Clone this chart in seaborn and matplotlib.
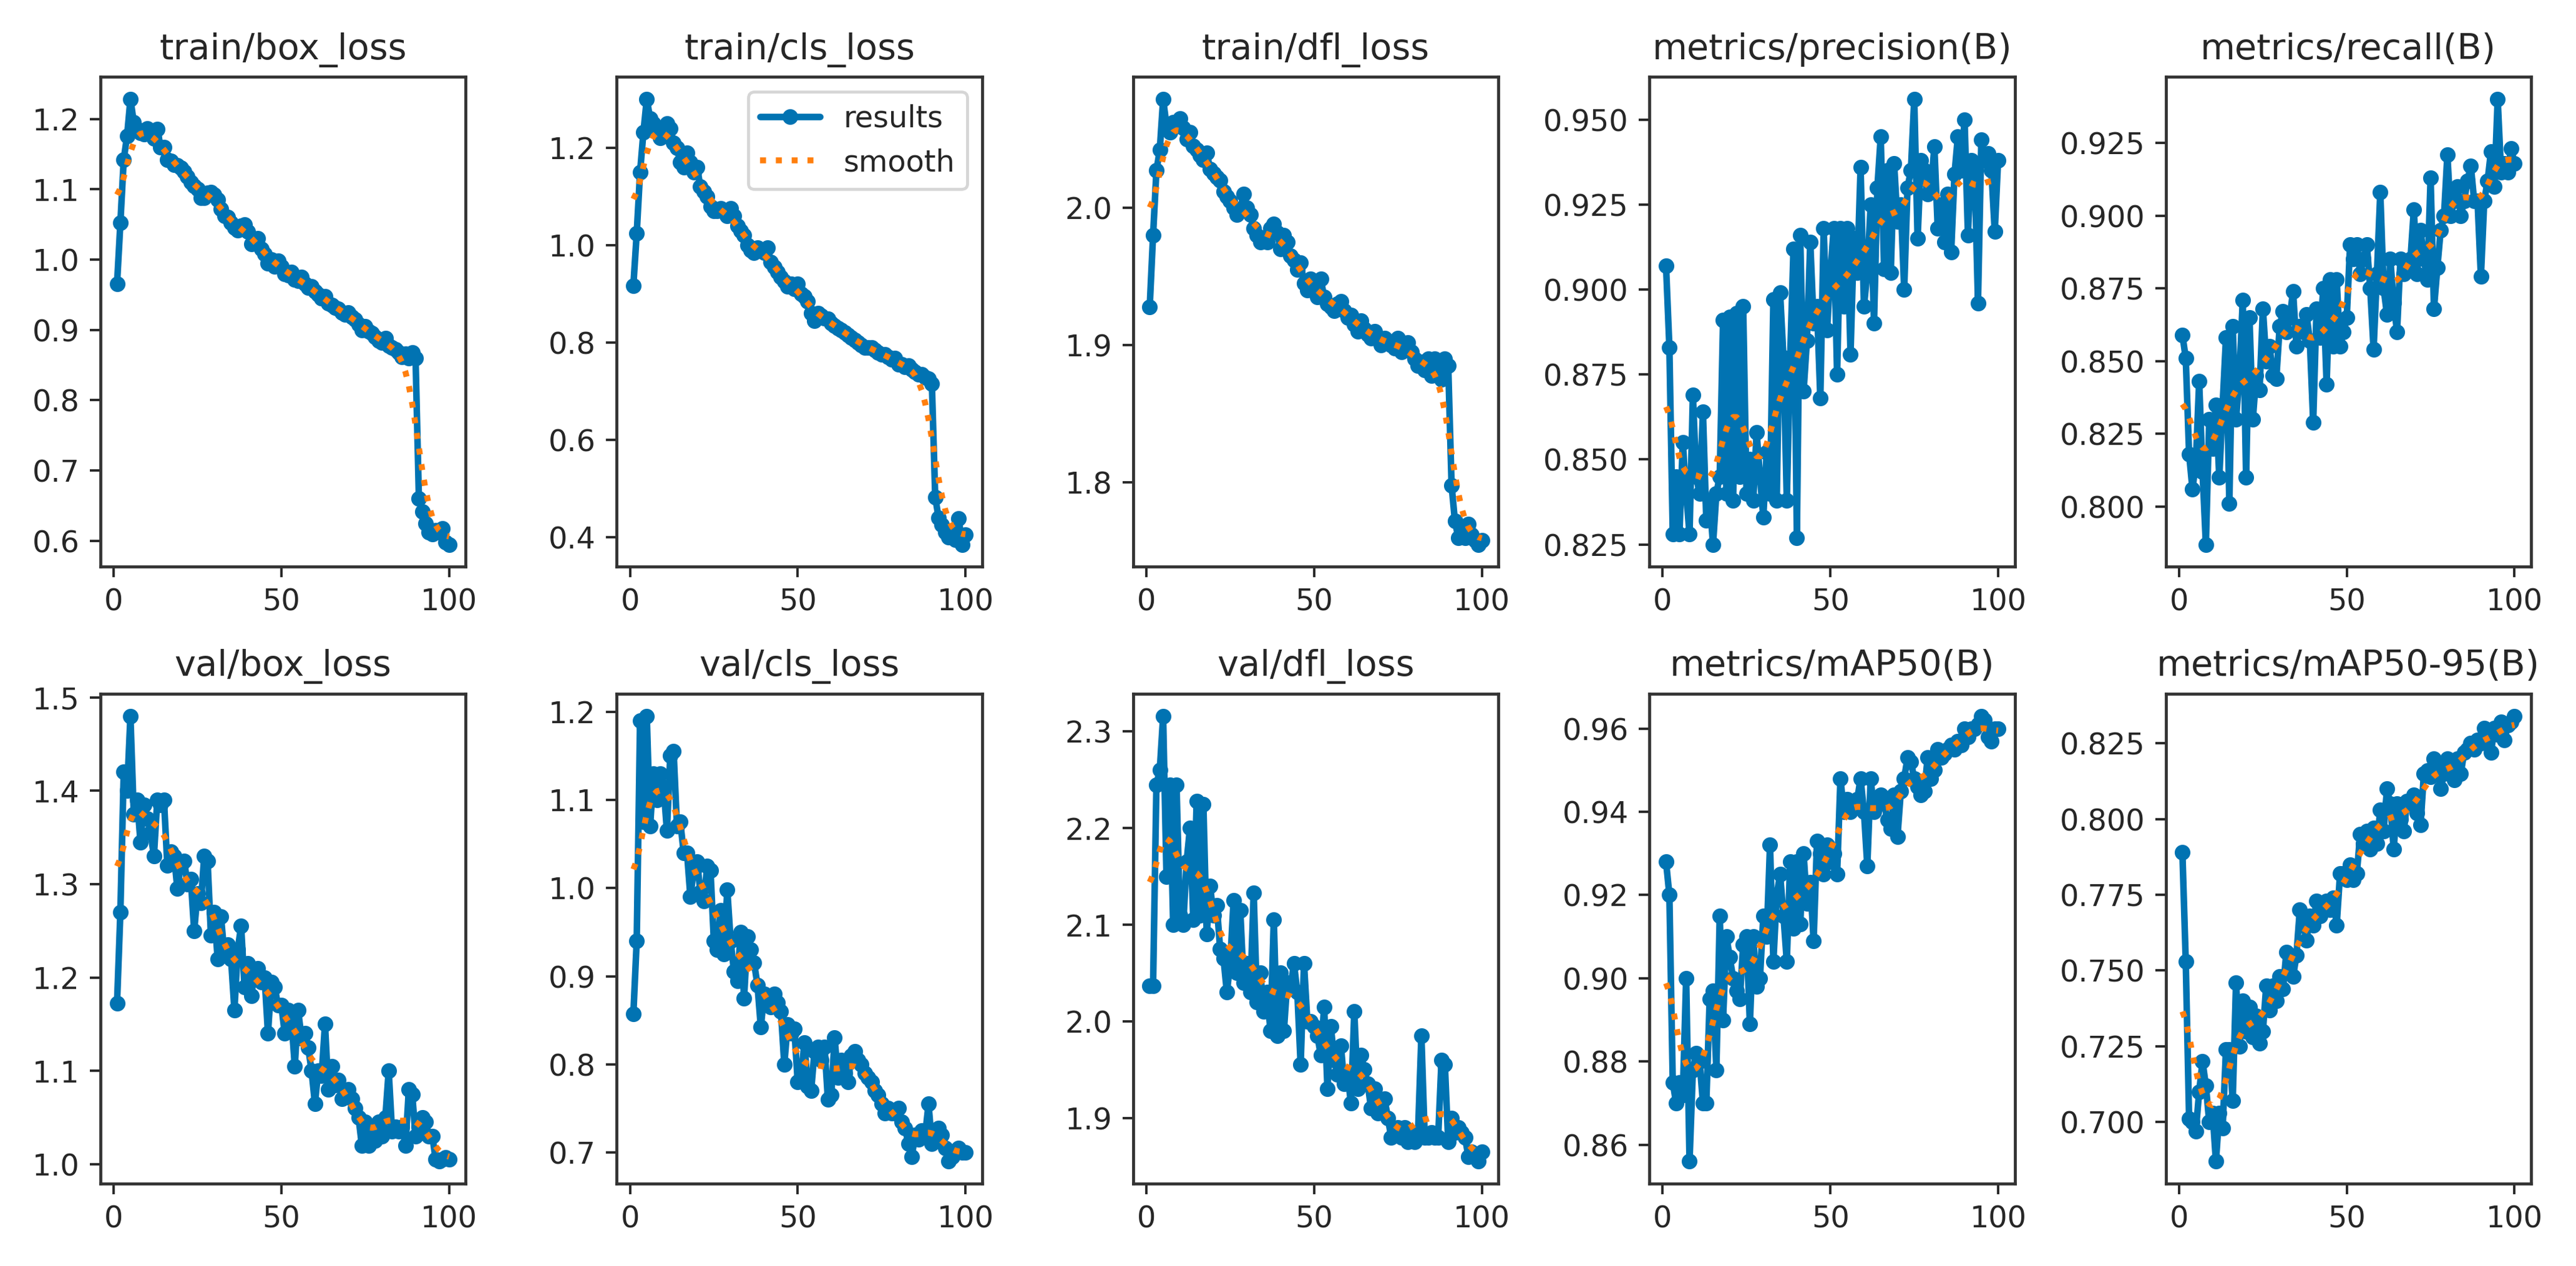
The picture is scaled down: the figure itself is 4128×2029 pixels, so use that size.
import numpy as np
import matplotlib
matplotlib.use("Agg")
import matplotlib.pyplot as plt
from matplotlib.ticker import MultipleLocator
import seaborn as sns

# epochs 1..100
epochs = np.arange(1, 101)

titles = ["train/box_loss", "train/cls_loss", "train/dfl_loss",
          "metrics/precision(B)", "metrics/recall(B)",
          "val/box_loss", "val/cls_loss", "val/dfl_loss",
          "metrics/mAP50(B)", "metrics/mAP50-95(B)"]

# values
train_box = [
    0.965, 1.052, 1.142, 1.176, 1.228, 1.195, 1.185, 1.180, 1.178, 1.186,
    1.180, 1.172, 1.185, 1.160, 1.160, 1.142, 1.140, 1.135, 1.134, 1.130,
    1.125, 1.118, 1.110, 1.105, 1.100, 1.088, 1.088, 1.095, 1.096, 1.092,
    1.085, 1.072, 1.062, 1.060, 1.052, 1.045, 1.042, 1.048, 1.050, 1.040,
    1.022, 1.025, 1.030, 1.015, 1.008, 0.995, 1.000, 0.990, 0.998, 0.990,
    0.980, 0.978, 0.982, 0.972, 0.970, 0.975, 0.965, 0.960, 0.962, 0.955,
    0.950, 0.945, 0.948, 0.938, 0.935, 0.932, 0.930, 0.925, 0.922, 0.925,
    0.918, 0.915, 0.908, 0.900, 0.905, 0.898, 0.895, 0.890, 0.885, 0.882,
    0.888, 0.878, 0.875, 0.872, 0.868, 0.862, 0.866, 0.860, 0.868, 0.860,
    0.660, 0.642, 0.625, 0.612, 0.610, 0.615, 0.612, 0.618, 0.598, 0.595]

train_cls = [
    0.917, 1.024, 1.150, 1.232, 1.300, 1.260, 1.250, 1.240, 1.220, 1.230,
    1.250, 1.240, 1.210, 1.200, 1.170, 1.160, 1.190, 1.170, 1.150, 1.160,
    1.120, 1.110, 1.100, 1.080, 1.070, 1.070, 1.075, 1.070, 1.060, 1.075,
    1.060, 1.040, 1.030, 1.020, 1.000, 0.990, 0.985, 0.995, 0.990, 0.985,
    0.995, 0.965, 0.955, 0.945, 0.935, 0.925, 0.915, 0.920, 0.910, 0.920,
    0.900, 0.895, 0.885, 0.860, 0.845, 0.860, 0.855, 0.850, 0.848, 0.840,
    0.835, 0.830, 0.825, 0.820, 0.815, 0.810, 0.805, 0.800, 0.795, 0.790,
    0.790, 0.790, 0.785, 0.780, 0.775, 0.775, 0.770, 0.765, 0.768, 0.755,
    0.755, 0.750, 0.752, 0.745, 0.740, 0.735, 0.735, 0.728, 0.726, 0.715,
    0.482, 0.440, 0.425, 0.410, 0.400, 0.405, 0.395, 0.438, 0.385, 0.405]

train_dfl = [
    1.928, 1.980, 2.027, 2.042, 2.079, 2.060, 2.055, 2.062, 2.060, 2.065,
    2.058, 2.050, 2.055, 2.045, 2.042, 2.038, 2.035, 2.040, 2.028, 2.025,
    2.022, 2.020, 2.012, 2.008, 2.005, 2.000, 1.995, 1.998, 2.010, 2.000,
    1.995, 1.985, 1.980, 1.975, 1.978, 1.975, 1.985, 1.988, 1.982, 1.970,
    1.980, 1.975, 1.965, 1.962, 1.955, 1.960, 1.945, 1.940, 1.948, 1.940,
    1.935, 1.948, 1.935, 1.930, 1.928, 1.925, 1.930, 1.932, 1.925, 1.920,
    1.922, 1.915, 1.910, 1.918, 1.912, 1.908, 1.905, 1.910, 1.905, 1.900,
    1.905, 1.902, 1.900, 1.898, 1.905, 1.895, 1.898, 1.902, 1.895, 1.890,
    1.885, 1.888, 1.882, 1.890, 1.878, 1.890, 1.885, 1.875, 1.890, 1.885,
    1.798, 1.772, 1.760, 1.768, 1.760, 1.770, 1.762, 1.758, 1.755, 1.758]

precision = [
    0.907, 0.883, 0.828, 0.845, 0.828, 0.855, 0.840, 0.828, 0.869, 0.845,
    0.840, 0.864, 0.832, 0.838, 0.825, 0.840, 0.845, 0.891, 0.840, 0.892,
    0.838, 0.893, 0.845, 0.895, 0.840, 0.850, 0.838, 0.858, 0.845, 0.833,
    0.852, 0.840, 0.897, 0.838, 0.899, 0.880, 0.838, 0.880, 0.912, 0.827,
    0.916, 0.870, 0.885, 0.914, 0.890, 0.895, 0.868, 0.918, 0.888, 0.905,
    0.918, 0.875, 0.918, 0.895, 0.918, 0.881, 0.915, 0.905, 0.936, 0.895,
    0.905, 0.925, 0.890, 0.930, 0.945, 0.906, 0.935, 0.905, 0.937, 0.920,
    0.925, 0.900, 0.930, 0.935, 0.956, 0.915, 0.938, 0.935, 0.928, 0.930,
    0.942, 0.918, 0.925, 0.914, 0.928, 0.911, 0.934, 0.945, 0.935, 0.950,
    0.916, 0.938, 0.935, 0.896, 0.944, 0.938, 0.940, 0.935, 0.917, 0.938]

recall = [
    0.859, 0.851, 0.818, 0.806, 0.815, 0.843, 0.812, 0.787, 0.830, 0.820,
    0.835, 0.810, 0.835, 0.858, 0.801, 0.862, 0.830, 0.845, 0.871, 0.810,
    0.865, 0.830, 0.845, 0.840, 0.868, 0.850, 0.855, 0.845, 0.844, 0.862,
    0.867, 0.860, 0.865, 0.874, 0.855, 0.862, 0.860, 0.866, 0.857, 0.829,
    0.868, 0.858, 0.875, 0.842, 0.878, 0.855, 0.878, 0.855, 0.860, 0.865,
    0.890, 0.885, 0.890, 0.880, 0.885, 0.890, 0.875, 0.854, 0.880, 0.908,
    0.875, 0.866, 0.885, 0.870, 0.860, 0.885, 0.880, 0.882, 0.885, 0.902,
    0.880, 0.895, 0.885, 0.878, 0.913, 0.868, 0.882, 0.895, 0.900, 0.921,
    0.900, 0.905, 0.910, 0.900, 0.905, 0.912, 0.917, 0.905, 0.905, 0.879,
    0.905, 0.912, 0.922, 0.910, 0.940, 0.915, 0.918, 0.915, 0.923, 0.918]

val_box = [
    1.172, 1.270, 1.420, 1.400, 1.480, 1.375, 1.390, 1.345, 1.385, 1.370,
    1.355, 1.330, 1.390, 1.385, 1.390, 1.320, 1.335, 1.330, 1.295, 1.320,
    1.325, 1.300, 1.305, 1.250, 1.290, 1.280, 1.330, 1.325, 1.245, 1.270,
    1.220, 1.265, 1.225, 1.235, 1.220, 1.165, 1.230, 1.255, 1.190, 1.215,
    1.180, 1.205, 1.210, 1.195, 1.200, 1.140, 1.195, 1.190, 1.170, 1.170,
    1.140, 1.165, 1.155, 1.105, 1.165, 1.135, 1.140, 1.125, 1.100, 1.065,
    1.100, 1.095, 1.150, 1.080, 1.105, 1.085, 1.090, 1.070, 1.075, 1.080,
    1.070, 1.060, 1.050, 1.020, 1.045, 1.020, 1.040, 1.025, 1.045, 1.030,
    1.050, 1.100, 1.035, 1.040, 1.035, 1.040, 1.020, 1.080, 1.075, 1.030,
    1.040, 1.050, 1.045, 1.030, 1.030, 1.005, 1.003, 1.005, 1.007, 1.005]

val_cls = [
    0.857, 0.940, 1.190, 1.075, 1.195, 1.070, 1.130, 1.100, 1.130, 1.115,
    1.065, 1.150, 1.155, 1.070, 1.075, 1.040, 1.040, 0.990, 1.020, 1.030,
    0.995, 0.985, 1.025, 1.020, 0.940, 0.930, 0.975, 0.925, 0.998, 0.940,
    0.905, 0.895, 0.950, 0.875, 0.945, 0.930, 0.915, 0.890, 0.842, 0.880,
    0.875, 0.865, 0.880, 0.870, 0.860, 0.800, 0.845, 0.835, 0.840, 0.780,
    0.785, 0.825, 0.775, 0.770, 0.815, 0.820, 0.805, 0.820, 0.760, 0.765,
    0.830, 0.785, 0.805, 0.790, 0.780, 0.810, 0.815, 0.805, 0.800, 0.790,
    0.785, 0.780, 0.770, 0.765, 0.755, 0.745, 0.750, 0.745, 0.745, 0.750,
    0.735, 0.728, 0.710, 0.695, 0.720, 0.715, 0.725, 0.720, 0.755, 0.710,
    0.725, 0.728, 0.720, 0.705, 0.690, 0.695, 0.700, 0.705, 0.700, 0.700]

val_dfl = [
    2.037, 2.037, 2.245, 2.260, 2.316, 2.150, 2.245, 2.100, 2.245, 2.110,
    2.100, 2.165, 2.200, 2.105, 2.228, 2.110, 2.225, 2.090, 2.140, 2.110,
    2.120, 2.075, 2.065, 2.030, 2.060, 2.125, 2.050, 2.115, 2.040, 2.060,
    2.030, 2.133, 2.020, 2.050, 2.010, 2.030, 1.990, 2.105, 1.985, 2.050,
    1.990, 2.040, 2.035, 2.060, 2.030, 1.955, 2.060, 2.000, 2.000, 1.995,
    1.985, 1.965, 2.015, 1.930, 1.995, 1.960, 1.945, 1.975, 1.935, 1.945,
    1.915, 2.010, 1.930, 1.965, 1.950, 1.935, 1.910, 1.930, 1.905, 1.915,
    1.920, 1.900, 1.880, 1.885, 1.890, 1.880, 1.890, 1.875, 1.885, 1.875,
    1.885, 1.985, 1.880, 1.880, 1.885, 1.880, 1.880, 1.960, 1.955, 1.875,
    1.900, 1.885, 1.890, 1.885, 1.880, 1.860, 1.865, 1.860, 1.855, 1.865]

map50 = [
    0.928, 0.920, 0.875, 0.870, 0.875, 0.872, 0.900, 0.856, 0.878, 0.882,
    0.880, 0.870, 0.870, 0.895, 0.897, 0.878, 0.915, 0.890, 0.910, 0.905,
    0.900, 0.897, 0.895, 0.908, 0.910, 0.889, 0.910, 0.898, 0.900, 0.915,
    0.910, 0.932, 0.904, 0.920, 0.925, 0.915, 0.904, 0.928, 0.912, 0.928,
    0.913, 0.930, 0.918, 0.923, 0.909, 0.933, 0.930, 0.925, 0.932, 0.928,
    0.930, 0.925, 0.948, 0.940, 0.943, 0.940, 0.942, 0.943, 0.948, 0.940,
    0.927, 0.948, 0.940, 0.942, 0.944, 0.942, 0.938, 0.936, 0.944, 0.934,
    0.945, 0.948, 0.953, 0.952, 0.948, 0.946, 0.944, 0.945, 0.953, 0.948,
    0.950, 0.955, 0.953, 0.954, 0.955, 0.956, 0.955, 0.957, 0.956, 0.960,
    0.958, 0.960, 0.960, 0.961, 0.963, 0.962, 0.958, 0.957, 0.960, 0.960]

map50_95 = [
    0.789, 0.753, 0.701, 0.700, 0.697, 0.710, 0.720, 0.712, 0.700, 0.703,
    0.687, 0.703, 0.698, 0.724, 0.724, 0.707, 0.746, 0.725, 0.740, 0.730,
    0.738, 0.728, 0.735, 0.726, 0.730, 0.745, 0.737, 0.745, 0.740, 0.748,
    0.744, 0.756, 0.752, 0.748, 0.755, 0.770, 0.765, 0.760, 0.768, 0.765,
    0.773, 0.768, 0.770, 0.773, 0.770, 0.774, 0.765, 0.782, 0.782, 0.780,
    0.785, 0.780, 0.782, 0.795, 0.792, 0.796, 0.790, 0.797, 0.792, 0.803,
    0.796, 0.810, 0.805, 0.790, 0.805, 0.800, 0.796, 0.806, 0.805, 0.808,
    0.802, 0.798, 0.815, 0.816, 0.814, 0.820, 0.818, 0.810, 0.815, 0.820,
    0.818, 0.813, 0.820, 0.815, 0.822, 0.823, 0.825, 0.823, 0.826, 0.825,
    0.830, 0.826, 0.822, 0.830, 0.828, 0.832, 0.826, 0.831, 0.832, 0.834]

series = [train_box, train_cls, train_dfl, precision, recall,
          val_box, val_cls, val_dfl, map50, map50_95]

# y tick spacing used in each panel of the reference
ytick_steps = [0.1, 0.2, 0.1, 0.025, 0.025, 0.1, 0.1, 0.1, 0.02, 0.025]


def gauss_smooth(y, sigma=3):
    # same as scipy gaussian_filter1d (mode='reflect', truncate=4)
    r = int(4 * sigma + 0.5)
    k = np.exp(-0.5 * (np.arange(-r, r + 1) / sigma) ** 2)
    k /= k.sum()
    yp = np.pad(np.asarray(y, dtype=float), r, mode="symmetric")
    return np.convolve(yp, k, mode="valid")


sns.set_style("ticks")
plt.rcParams["font.family"] = ["DejaVu Sans"]
blue = sns.color_palette("colorblind")[0]
orange = "#ff7f0e"

fig, axes = plt.subplots(2, 5, figsize=(12, 2029 / 344), tight_layout=True)
axes = axes.ravel()

for ax, y, title, step in zip(axes, series, titles, ytick_steps):
    y = np.asarray(y)
    sns.lineplot(x=epochs, y=y, ax=ax, marker=".", markersize=9, linewidth=2.2,
                 color=blue, markeredgecolor=blue, label="results", legend=False)
    sns.lineplot(x=epochs, y=gauss_smooth(y), ax=ax, linestyle=":", linewidth=2,
                 color=orange, label="smooth", legend=False)
    ax.set_title(title, fontsize=12)
    ax.set_xlabel("")
    ax.set_ylabel("")
    ax.set_xticks([0, 50, 100])
    ax.yaxis.set_major_locator(MultipleLocator(step))
    for s in ax.spines.values():
        s.set_color("#333333")
        s.set_linewidth(1.0)

axes[1].legend()

fig.savefig("out.png", dpi=344)
